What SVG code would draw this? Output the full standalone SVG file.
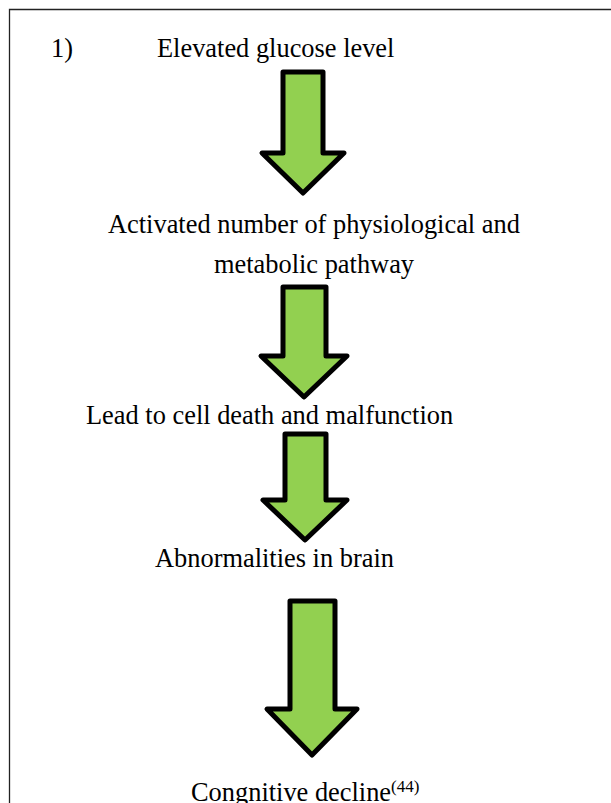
<svg xmlns="http://www.w3.org/2000/svg" width="611" height="803" viewBox="0 0 611 803">
<style>
.t{font-family:"Liberation Serif","Times New Roman",serif;font-size:26.4px;fill:#000}
.sup{font-size:17px}
.arr{fill:#92d050;stroke:#000;stroke-width:5;stroke-linejoin:round}
</style>
<rect x="0" y="0" width="611" height="803" fill="#fff"/>
<path d="M9.5 810 V9.5 H620" fill="none" stroke="#222" stroke-width="1.3"/>
<g id="n1"><text class="t" x="51" y="57">1)</text><text class="t" x="157" y="57">Elevated glucose level</text></g>
<g id="n2"><text class="t" x="108" y="233">Activated number of physiological and</text><text class="t" x="214" y="273">metabolic pathway</text></g>
<g id="n3"><text class="t" x="86" y="424">Lead to cell death and malfunction</text></g>
<g id="n4"><text class="t" x="155" y="567">Abnormalities in brain</text></g>
<g id="n5"><text class="t" x="191" y="801">Congnitive decline<tspan class="sup" dy="-9">(44)</tspan></text></g>
<g id="connectors">
<path class="arr" d="M283 72 H323 V153 H344 L303 193 L262 153 H283 Z"/>
<path class="arr" d="M283 287 H326 V356 H347 L304 397 L261 356 H283 Z"/>
<path class="arr" d="M285 434 H326 V500 H347 L305 540 L263 500 H285 Z"/>
<path class="arr" d="M290 601 H335 V709 H357 L312 755 L267 709 H290 Z"/>
</g>
</svg>
